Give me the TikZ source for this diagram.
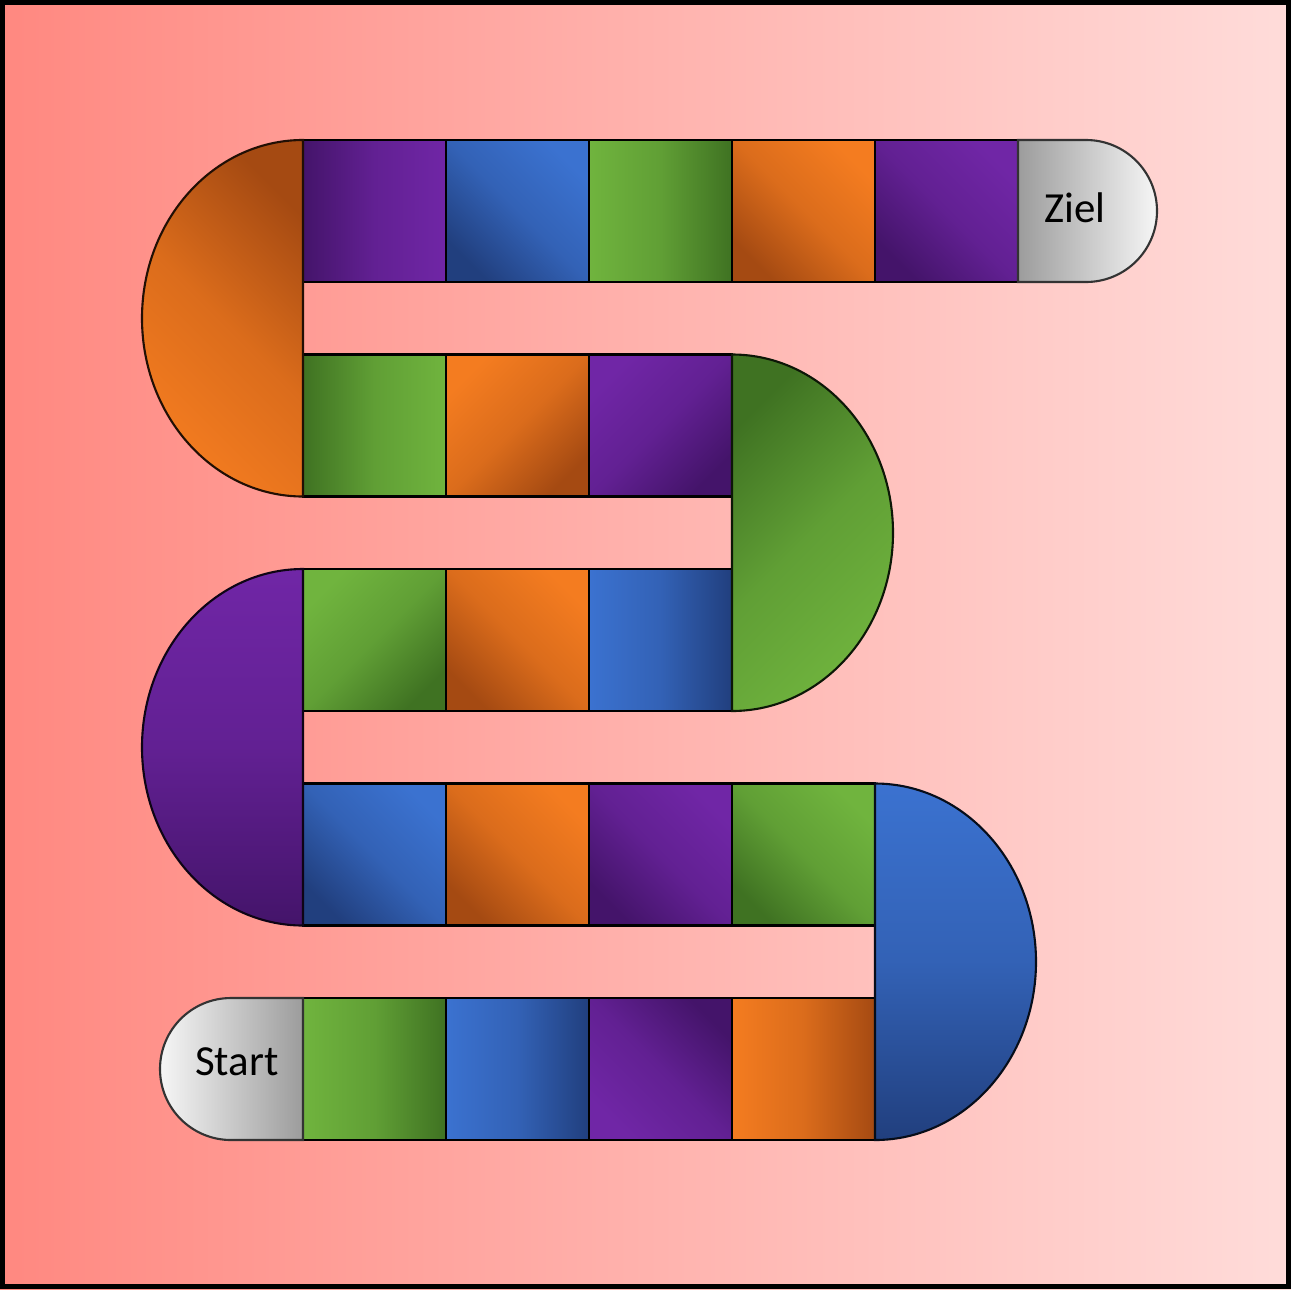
\documentclass[tikz,border=0pt]{standalone}
\usepackage{fontspec}
\setmainfont{Carlito}
\usepackage{xcolor}
\usepackage{tikz}
\usetikzlibrary{positioning}
\definecolor{BoardBgL}{HTML}{FF8880}
\definecolor{BoardBgR}{HTML}{FFDCDA}
\definecolor{OrangeL}{HTML}{F47C20}
\definecolor{OrangeD}{HTML}{A54A12}
\definecolor{PurpleL}{HTML}{7026A6}
\definecolor{PurpleD}{HTML}{44146A}
\definecolor{BlueL}{HTML}{3B72D0}
\definecolor{BlueD}{HTML}{213F7E}
\definecolor{GreenL}{HTML}{70B43E}
\definecolor{GreenD}{HTML}{3F7222}
\definecolor{CapL}{HTML}{F6F6F6}
\definecolor{CapD}{HTML}{9C9C9C}

\begin{document}
\begin{tikzpicture}[
  tile/.style 2 args={draw=black, line width=0.6pt, inner sep=0pt, outer sep=0pt,
    minimum width=1.43cm, minimum height=1.42cm,
    top color=#1L, bottom color=#1D, middle color=#1L!68!#1D, shading angle=#2},
  halfdisk/.style 2 args={draw=black!80!#1D, line width=0.6pt,
    top color=#1L, bottom color=#1D, middle color=#1L!68!#1D, shading angle=#2},
  endcap/.style={draw=black!80, line width=0.6pt},
  caption/.style={font=\fontsize{12.2}{15}\selectfont, text=black, inner sep=0pt}
]
\useasboundingbox (0,0) rectangle (12.91,12.89);
\shade[left color=BoardBgL, right color=BoardBgR] (0,0) rectangle (12.91,12.89);

% row 1 (top)
\node[tile={Purple}{-90}] (r1-1) at (3.745,10.78) {};
\node[tile={Blue}{-45}, right=0pt of r1-1] (r1-2) {};
\node[tile={Green}{90}, right=0pt of r1-2] (r1-3) {};
\node[tile={Orange}{-45}, right=0pt of r1-3] (r1-4) {};
\node[tile={Purple}{-45}, right=0pt of r1-4] (r1-5) {};

% row 2
\node[tile={Green}{-90}] (r2-1) at (3.745,8.635) {};
\node[tile={Orange}{45}, right=0pt of r2-1] (r2-2) {};
\node[tile={Purple}{45}, right=0pt of r2-2] (r2-3) {};

% row 3
\node[tile={Green}{45}] (r3-1) at (3.745,6.49) {};
\node[tile={Orange}{-45}, right=0pt of r3-1] (r3-2) {};
\node[tile={Blue}{90}, right=0pt of r3-2] (r3-3) {};

% row 4
\node[tile={Blue}{-45}] (r4-1) at (3.745,4.345) {};
\node[tile={Orange}{-45}, right=0pt of r4-1] (r4-2) {};
\node[tile={Purple}{-45}, right=0pt of r4-2] (r4-3) {};
\node[tile={Green}{-45}, right=0pt of r4-3] (r4-4) {};

% row 5 (bottom)
\node[tile={Green}{90}] (r5-1) at (3.745,2.20) {};
\node[tile={Blue}{90}, right=0pt of r5-1] (r5-2) {};
\node[tile={Purple}{135}, right=0pt of r5-2] (r5-3) {};
\node[tile={Orange}{90}, right=0pt of r5-3] (r5-4) {};

% bends
\path[halfdisk={Orange}{135}] (r1-1.north west)
  arc[start angle=90, end angle=270, x radius=1.61, y radius=1.7825] -- cycle;
\path[halfdisk={Green}{225}] (r2-3.north east)
  arc[start angle=90, end angle=-90, x radius=1.61, y radius=1.7825] -- cycle;
\path[halfdisk={Purple}{0}] (r3-1.north west)
  arc[start angle=90, end angle=270, x radius=1.61, y radius=1.7825] -- cycle;
\path[halfdisk={Blue}{0}] (r4-4.north east)
  arc[start angle=90, end angle=-90, x radius=1.61, y radius=1.7825] -- cycle;

% start and goal
\path[endcap, left color=CapL, right color=CapD] (r5-1.north west) -- ++(-0.72,0)
  arc[start angle=90, end angle=270, radius=0.71] -- (r5-1.south west) -- cycle;
\path[endcap, left color=CapD, right color=CapL] (r1-5.north east) -- ++(0.68,0)
  arc[start angle=90, end angle=-90, radius=0.71] -- (r1-5.south east) -- cycle;
\node[caption] (start) at (2.37,2.27) {Start};
\node[caption] (ziel) at (10.75,10.81) {Ziel};

\draw[line width=0.05cm] (0.025,0.025) rectangle (12.885,12.865);
\end{tikzpicture}
\end{document}
